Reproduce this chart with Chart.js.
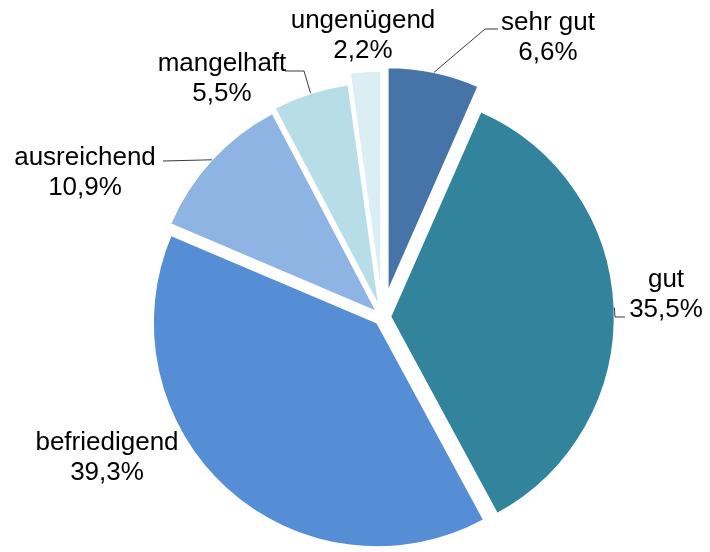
<!DOCTYPE html>
<html>
<head>
<meta charset="utf-8">
<script src="https://cdn.jsdelivr.net/npm/chart.js@4/dist/chart.umd.min.js"></script>
<style>
  html, body { margin: 0; padding: 0; background: #fff; }
  #wrap { width: 710px; height: 552px; position: relative; }
</style>
</head>
<body>
<div id="wrap"><canvas id="c"></canvas></div>
<script>
// ---- data ----
const categories = ["sehr gut", "gut", "befriedigend", "ausreichend", "mangelhaft", "ungenügend"];
const shares = [6.6, 35.5, 39.3, 10.9, 5.5, 2.2];

// ---- styles ----
const sliceColors = ["#4674A8", "#31849B", "#558ED5", "#8EB4E3", "#B7DDE8", "#DBEEF4"];
const explode = [26, 8, 8, 8, 11, 22];          // px each slice is pulled out
// label layout relative to pie centre: text centre x, first baseline y, optional leader elbow/end
const labelLayout = [
  { dx: 165.5, dy: -287, leader: [[102.5, -288], [115.5, -288]] },
  { dx: 283.5, dy: -30,  leader: [[232.5, 0], [242.5, 0]] },
  { dx: -275.5, dy: 133, leader: null },
  { dx: -297.5, dy: -152, leader: [[-219.5, -156]] },
  { dx: -160.5, dy: -246, leader: [[-78.5, -246], [-97.5, -246]] },
  { dx: -19.5, dy: -289, leader: null }
];
const fmt = v => v.toFixed(1).replace('.', ',') + '%';

const explodePlugin = {
  id: 'explode',
  beforeDatasetDraw(chart, args) {
    const ctx = chart.ctx;
    args.meta.data.forEach((arc, i) => {
      const mid = (arc.startAngle + arc.endAngle) / 2;
      const d = explode[i];
      ctx.save();
      ctx.translate(Math.cos(mid) * d, Math.sin(mid) * d);
      arc.draw(ctx);
      ctx.restore();
    });
    return false;
  }
};

const labelPlugin = {
  id: 'outLabels',
  afterDatasetsDraw(chart) {
    const ctx = chart.ctx;
    const meta = chart.getDatasetMeta(0);
    ctx.save();
    meta.data.forEach((arc, i) => {
      const cx = arc.x, cy = arc.y;
      const mid = (arc.startAngle + arc.endAngle) / 2;
      const L = labelLayout[i];
      if (L.leader) {
        const r = arc.outerRadius + explode[i];
        ctx.beginPath();
        ctx.moveTo(cx + Math.cos(mid) * r, cy + Math.sin(mid) * r);
        L.leader.forEach(p => ctx.lineTo(cx + p[0], cy + p[1]));
        ctx.strokeStyle = '#3a3a3a';
        ctx.lineWidth = 1;
        ctx.stroke();
      }
      ctx.fillStyle = '#000';
      ctx.font = '26px "Liberation Sans", Arial, sans-serif';
      ctx.textAlign = 'center';
      ctx.textBaseline = 'alphabetic';
      ctx.fillText(categories[i], cx + L.dx, cy + L.dy);
      ctx.fillText(fmt(shares[i]), cx + L.dx, cy + L.dy + 30);
    });
    ctx.restore();
  }
};

new Chart(document.getElementById('c'), {
  type: 'pie',
  data: {
    labels: categories,
    datasets: [{
      data: shares,
      backgroundColor: sliceColors,
      borderColor: '#ffffff',
      borderWidth: 1.5,
      offset: 0
    }]
  },
  options: {
    responsive: true,
    maintainAspectRatio: false,
    devicePixelRatio: 1,
    animation: false,
    radius: 224,
    layout: { padding: { left: 55, top: 82, right: 0, bottom: 0 } },
    plugins: { legend: { display: false }, tooltip: { enabled: false } },
    events: []
  },
  plugins: [explodePlugin, labelPlugin]
});
</script>
</body>
</html>
